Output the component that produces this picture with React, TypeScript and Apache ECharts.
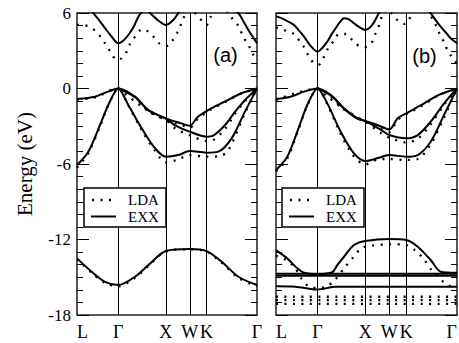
import React, { useEffect, useRef } from 'react';
import * as echarts from 'echarts';

// high-symmetry points along the k-path (L-Γ-X-W-K-Γ)
const kTicks = [0, 0.866, 1.866, 2.366, 2.72, 3.78];
const kLabels = ['L', 'Γ', 'X', 'W', 'K', 'Γ'];
const kLines = [0.866, 1.866, 2.366, 2.72];
const yMin = -18;
const yMax = 6;
const yStep = 6;

// ---------- panel (a) ----------
const exxCondA = [[0,7.4],[0.2,6.8],[0.342,6.0],[0.47,5.4],[0.588,4.8],[0.72,4.15],[0.866,3.59],[0.97,3.8],[1.078,4.25],[1.19,4.9],[1.288,5.71],[1.359,6.05],[1.45,6.3],[1.534,6.0],[1.62,5.7],[1.708,5.4],[1.866,5.05],[2.023,5.44],[2.128,6.0],[2.25,6.8],[2.366,7.3],[2.72,7.6],[3.0,7.2],[3.2,6.6],[3.389,6.0],[3.5,5.3],[3.599,4.65],[3.7,4.05],[3.78,3.6]];
const ldaCondA = [[0,5.05],[0.1,5.05],[0.225,4.95],[0.378,4.6],[0.504,4.07],[0.603,3.51],[0.714,2.85],[0.8,2.35],[0.866,2.27],[0.935,2.4],[1.043,2.93],[1.113,3.54],[1.218,4.12],[1.323,4.62],[1.4,4.72],[1.463,4.6],[1.603,4.12],[1.743,3.54],[1.866,3.4],[1.905,3.38],[2.023,3.91],[2.128,4.6],[2.198,5.23],[2.268,5.84],[2.37,6.3],[2.478,6.0],[2.619,5.39],[2.72,5.05],[2.814,5.76],[2.9,6.4],[3.05,6.6],[3.177,6.0],[3.283,5.44],[3.4,4.91],[3.49,4.12],[3.6,3.46],[3.684,2.8],[3.78,2.18]];
const exxV1A = [[0,-0.83],[0.378,-0.65],[0.65,-0.25],[0.866,0],[1.218,-0.65],[1.5,-1.71],[1.866,-2.37],[2.19,-2.77],[2.366,-2.96],[2.54,-2.24],[2.757,-1.71],[3.1,-1.05],[3.45,-0.38],[3.78,0]];
const exxV2A = [[0.866,0],[1.218,-0.68],[1.5,-1.74],[1.866,-2.4],[2.07,-2.95],[2.366,-3.43],[2.72,-3.83],[2.86,-3.75],[3.11,-2.9],[3.32,-1.84],[3.53,-0.91],[3.78,0]];
const exxV3A = [[0,-6.08],[0.237,-5.02],[0.483,-2.9],[0.657,-1.31],[0.866,0],[1.078,-1.31],[1.358,-3.16],[1.638,-4.75],[1.866,-5.42],[2.128,-5.29],[2.366,-4.97],[2.72,-5.1],[2.966,-5.02],[3.247,-3.96],[3.527,-1.84],[3.78,0]];
const ldaV1A = [[0,-0.9],[0.378,-0.7],[0.866,0],[1.218,-0.7],[1.5,-1.8],[1.866,-2.5],[2.19,-2.9],[2.366,-3.1],[2.54,-2.4],[2.757,-1.8],[3.1,-1.1],[3.45,-0.4],[3.78,0]];
const ldaV2A = [[0.866,0],[1.5,-1.8],[1.866,-2.5],[2.07,-3.2],[2.366,-3.7],[2.72,-4.17],[2.86,-4.1],[3.11,-3.2],[3.32,-2.0],[3.53,-1.0],[3.78,0]];
const ldaV3A = [[0,-6.3],[0.237,-5.15],[0.483,-3.0],[0.657,-1.35],[0.866,0],[1.078,-1.35],[1.358,-3.3],[1.638,-4.95],[1.866,-5.87],[2.1,-5.68],[2.366,-5.3],[2.72,-5.42],[3.0,-5.37],[3.18,-4.89],[3.527,-1.95],[3.78,0]];
const exxSA = [[0,-13.5],[0.308,-14.56],[0.588,-15.36],[0.866,-15.62],[1.218,-14.96],[1.5,-14.03],[1.866,-12.92],[2.366,-12.76],[2.72,-12.92],[3.039,-13.77],[3.39,-14.96],[3.78,-15.62]];
const ldaSA = [[0,-13.55],[0.308,-14.65],[0.588,-15.45],[0.866,-15.72],[1.218,-15.05],[1.5,-14.1],[1.866,-12.95],[2.366,-12.78],[2.72,-12.95],[3.039,-13.85],[3.39,-15.05],[3.78,-15.72]];

// ---------- panel (b) ----------
const exxCondB = [[0,5.75],[0.167,5.5],[0.376,5.05],[0.48,4.6],[0.585,4.12],[0.72,3.4],[0.866,2.93],[0.96,3.2],[1.071,3.72],[1.16,4.3],[1.246,4.79],[1.33,5.25],[1.42,5.58],[1.52,5.5],[1.628,5.18],[1.75,4.85],[1.866,4.65],[2.01,5.05],[2.15,6.0],[2.3,6.9],[2.366,7.2],[2.72,7.6],[3.0,7.0],[3.23,6.0],[3.33,5.45],[3.438,4.91],[3.547,4.45],[3.647,3.99],[3.78,3.6]];
const ldaCondB = [[0,4.85],[0.202,4.6],[0.376,4.33],[0.501,3.72],[0.599,3.2],[0.689,2.53],[0.793,2.0],[0.866,1.9],[0.919,1.95],[1.002,2.53],[1.107,3.32],[1.211,3.8],[1.315,4.33],[1.455,4.33],[1.593,3.86],[1.733,3.38],[1.866,3.3],[1.9,3.32],[2.01,3.72],[2.08,4.39],[2.171,5.18],[2.219,5.84],[2.3,6.3],[2.407,6.0],[2.547,5.39],[2.687,5.13],[2.777,5.5],[2.9,6.3],[3.05,6.6],[3.194,6.0],[3.28,5.44],[3.37,4.79],[3.44,4.12],[3.528,3.6],[3.576,3.06],[3.668,2.53],[3.75,2.13],[3.78,2.0]];
const exxV1B = [[0,-0.83],[0.307,-0.65],[0.585,-0.25],[0.866,0],[1.146,-0.52],[1.42,-1.57],[1.7,-2.37],[1.866,-2.58],[2.116,-2.9],[2.366,-3.25],[2.54,-2.37],[2.72,-1.97],[3.04,-1.31],[3.39,-0.52],[3.78,0]];
const exxV2B = [[0.866,0],[1.146,-0.55],[1.42,-1.6],[1.7,-2.4],[1.866,-2.6],[2.2,-3.3],[2.366,-3.7],[2.72,-3.96],[2.96,-3.7],[3.23,-2.64],[3.51,-1.18],[3.78,0]];
const exxV3B = [[0,-6.48],[0.236,-5.42],[0.445,-3.43],[0.654,-1.31],[0.866,0],[1.071,-1.18],[1.35,-3.43],[1.628,-5.15],[1.866,-5.76],[2.116,-5.55],[2.366,-5.29],[2.72,-5.42],[2.96,-5.29],[3.23,-4.23],[3.51,-2.1],[3.78,0]];
const ldaV1B = [[0,-0.9],[0.866,0],[1.42,-1.65],[1.866,-2.65],[2.116,-3.1],[2.366,-3.45],[2.54,-2.5],[2.72,-2.05],[3.04,-1.4],[3.39,-0.55],[3.78,0]];
const ldaV2B = [[0.866,0],[1.42,-1.65],[1.866,-2.65],[2.2,-3.55],[2.366,-3.9],[2.72,-4.28],[2.96,-4.0],[3.23,-2.85],[3.51,-1.3],[3.78,0]];
const ldaV3B = [[0,-6.6],[0.236,-5.55],[0.445,-3.5],[0.654,-1.35],[0.866,0],[1.071,-1.25],[1.35,-3.6],[1.628,-5.4],[1.866,-6.03],[2.116,-5.65],[2.366,-5.6],[2.72,-5.68],[2.96,-5.6],[3.23,-4.45],[3.51,-2.3],[3.78,0]];
const exxSB = [[0,-12.84],[0.236,-13.5],[0.445,-14.29],[0.585,-14.64],[0.866,-14.75],[1.176,-14.6],[1.28,-14.03],[1.42,-13.37],[1.628,-12.44],[1.866,-12.12],[2.366,-11.96],[2.72,-12.04],[2.96,-12.57],[3.23,-13.63],[3.44,-14.56],[3.78,-14.65]];
const exxD1B = [[0,-14.72],[3.78,-14.72]];
const exxD2B = [[0,-14.88],[3.78,-14.88]];
const exxD3B = [[0,-15.72],[0.4,-15.75],[0.866,-15.98],[1.25,-15.75],[3.78,-15.75]];
const ldaSB = [[0,-13.3],[0.2,-13.6],[0.376,-14.16],[0.55,-15.2],[0.689,-15.75],[0.866,-15.85],[1.037,-15.75],[1.211,-15.3],[1.42,-14.3],[1.593,-13.5],[1.78,-12.7],[1.98,-12.5],[2.366,-12.38],[2.72,-12.44],[2.9,-12.84],[3.07,-13.5],[3.25,-14.43],[3.39,-14.96],[3.53,-15.48],[3.67,-15.75],[3.78,-15.8]];
const ldaD1B = [[0,-16.55],[3.78,-16.55]];
const ldaD2B = [[0,-16.82],[3.78,-16.82]];
const ldaD3B = [[0,-17.12],[3.78,-17.12]];

const legendNames = ['LDA', 'EXX'];
const panelNames = ['(a)', '(b)'];

const SERIF = 'Liberation Serif';
const SANS = 'Liberation Sans';

function bandSeries(data: number[][], panel: number, dotted: boolean, extra: any = {}) {
  return {
    type: 'line',
    xAxisIndex: panel,
    yAxisIndex: panel * 2,
    data,
    smooth: 0.3,
    showSymbol: false,
    symbol: 'none',
    clip: true,
    silent: true,
    lineStyle: dotted
      ? { color: '#000', width: 2.3, type: [2, 6.5], cap: 'butt' }
      : { color: '#000', width: 2 },
    z: dotted ? 3 : 4,
    ...extra,
  };
}

function vLines() {
  return {
    markLine: {
      silent: true,
      symbol: ['none', 'none'],
      label: { show: false },
      lineStyle: { color: '#000', width: 1, type: 'solid' },
      data: kLines.map((k) => ({ xAxis: k })),
      animation: false,
    },
  };
}

function xAxis(panel: number) {
  return {
    type: 'value',
    gridIndex: panel,
    min: kTicks[0],
    max: kTicks[kTicks.length - 1],
    axisLine: { show: false },
    axisTick: { show: false },
    splitLine: { show: false },
    axisLabel: {
      show: true,
      customValues: kTicks,
      formatter: (v: number) => {
        const i = kTicks.findIndex((t) => Math.abs(t - v) < 1e-6);
        return i >= 0 ? kLabels[i] : '';
      },
      alignMinLabel: 'left',
      alignMaxLabel: panel === 1 ? 'right' : 'center',
      fontFamily: SERIF,
      fontSize: 18,
      color: '#000',
      margin: 8,
      hideOverlap: false,
    },
  };
}

function yAxis(panel: number, side: 'left' | 'right') {
  const labeled = panel === 0 && side === 'left';
  return {
    type: 'value',
    gridIndex: panel,
    position: side,
    min: yMin,
    max: yMax,
    interval: yStep,
    name: labeled ? 'Energy (eV)' : '',
    nameLocation: 'middle',
    nameGap: 42,
    nameTextStyle: { fontFamily: SERIF, fontSize: 21, color: '#000' },
    axisLine: { show: false },
    axisTick: { show: true, inside: true, length: 12, lineStyle: { color: '#000', width: 1 } },
    minorTick: { show: true, splitNumber: 6, length: 6, lineStyle: { color: '#000', width: 1 } },
    splitLine: { show: false },
    minorSplitLine: { show: false },
    axisLabel: {
      show: labeled,
      fontFamily: SERIF,
      fontSize: 17,
      color: '#000',
      margin: 6,
    },
  };
}

function legendBox(x: number, y: number) {
  return [
    { type: 'rect', z: 100, shape: { x, y, width: 82, height: 39 }, style: { fill: '#fff', stroke: '#000', lineWidth: 1.5 } },
    { type: 'line', z: 101, shape: { x1: x + 8, y1: y + 12, x2: x + 29, y2: y + 12 }, style: { stroke: '#000', lineWidth: 2.3, lineDash: [2, 6.5] } },
    { type: 'text', z: 101, x: x + 44, y: y + 12, style: { text: legendNames[0], font: `15px "${SERIF}"`, fill: '#000', verticalAlign: 'middle', align: 'left' } },
    { type: 'line', z: 101, shape: { x1: x + 7, y1: y + 28.5, x2: x + 32, y2: y + 28.5 }, style: { stroke: '#000', lineWidth: 2 } },
    { type: 'text', z: 101, x: x + 44, y: y + 28.5, style: { text: legendNames[1], font: `15px "${SERIF}"`, fill: '#000', verticalAlign: 'middle', align: 'left' } },
  ];
}

export default function App() {
  const ref = useRef<HTMLDivElement>(null);
  useEffect(() => {
    const chart = echarts.init(ref.current!, null, { renderer: 'svg' });
    const option: any = {
      animation: false,
      backgroundColor: '#fff',
      grid: [
        { left: 77, top: 13, width: 180, height: 302, show: true, borderColor: '#222', borderWidth: 1.5, backgroundColor: 'transparent', containLabel: false, outerBoundsMode: 'none' },
        { left: 276, top: 13, width: 181, height: 302, show: true, borderColor: '#222', borderWidth: 1.5, backgroundColor: 'transparent', containLabel: false, outerBoundsMode: 'none' },
      ],
      xAxis: [xAxis(0), xAxis(1)],
      yAxis: [yAxis(0, 'left'), yAxis(0, 'right'), yAxis(1, 'left'), yAxis(1, 'right')],
      series: [
        bandSeries(exxCondA, 0, false, vLines()),
        bandSeries(exxV1A, 0, false),
        bandSeries(exxV2A, 0, false),
        bandSeries(exxV3A, 0, false),
        bandSeries(exxSA, 0, false),
        bandSeries(ldaCondA, 0, true),
        bandSeries(ldaV1A, 0, true),
        bandSeries(ldaV2A, 0, true),
        bandSeries(ldaV3A, 0, true),
        bandSeries(ldaSA, 0, true),
        bandSeries(exxCondB, 1, false, vLines()),
        bandSeries(exxV1B, 1, false),
        bandSeries(exxV2B, 1, false),
        bandSeries(exxV3B, 1, false),
        bandSeries(exxSB, 1, false),
        bandSeries(exxD1B, 1, false),
        bandSeries(exxD2B, 1, false),
        bandSeries(exxD3B, 1, false),
        bandSeries(ldaCondB, 1, true),
        bandSeries(ldaV1B, 1, true),
        bandSeries(ldaV2B, 1, true),
        bandSeries(ldaV3B, 1, true),
        bandSeries(ldaSB, 1, true),
        bandSeries(ldaD1B, 1, true),
        bandSeries(ldaD2B, 1, true),
        bandSeries(ldaD3B, 1, true),
      ],
      graphic: [
        ...legendBox(84, 188),
        ...legendBox(282, 188),
        { type: 'text', z: 101, x: 225.5, y: 55, style: { text: panelNames[0], font: `20px "${SANS}"`, fill: '#000', align: 'center', verticalAlign: 'middle' } },
        { type: 'text', z: 101, x: 424.5, y: 56, style: { text: panelNames[1], font: `20px "${SANS}"`, fill: '#000', align: 'center', verticalAlign: 'middle' } },
      ],
    };
    chart.setOption(option);
    return () => chart.dispose();
  }, []);
  return <div ref={ref} style={{ position: 'fixed', left: 0, top: 0, width: 459, height: 343, background: '#fff' }} />;
}
